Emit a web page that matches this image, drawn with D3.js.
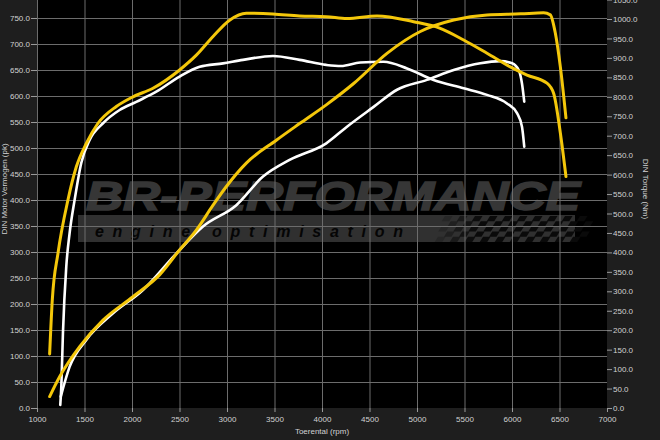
<!DOCTYPE html>
<html>
<head>
<meta charset="utf-8">
<script src="https://cdn.jsdelivr.net/npm/d3@7"></script>
<style>
  body { margin: 0; background: #1e1e1e; }
  text { font-family: "Liberation Sans", Arial, sans-serif; }
</style>
</head>
<body>
<div id="chart"></div>
<script>
// tick values
var rpmTicks = d3.range(1000, 7001, 500);
var pkTicks = d3.range(0, 751, 50);
var nmTicks = d3.range(0, 1051, 50);

// tuned torque (Nm, right axis) - yellow
var tunedTorqueRpm = [1133, 1161, 1221, 1326, 1414, 1519, 1642, 1835, 2010, 2221, 2501, 2677, 2853, 3027, 3203, 3484, 3764, 4045, 4263, 4579, 4964, 5245, 5491, 5737, 5982, 6158, 6368, 6438, 6509, 6568];
var tunedTorque    = [139, 278, 398, 535, 620, 680, 732, 775, 800, 822, 869, 907, 955, 997, 1015, 1013, 1008, 1006, 1001, 1008, 993, 976, 946, 912, 877, 856, 835, 809, 707, 595];

// stock torque (Nm, right axis) - white
var stockTorqueRpm = [1245, 1256, 1273, 1308, 1343, 1396, 1466, 1554, 1695, 1870, 2045, 2256, 2501, 2712, 2958, 3168, 3484, 3764, 4045, 4200, 4403, 4648, 4895, 5175, 5491, 5737, 5947, 6053, 6105, 6129];
var stockTorque    = [8, 55, 192, 363, 449, 535, 630, 689, 732, 766, 787, 813, 852, 877, 886, 895, 905, 895, 882, 879, 888, 890, 873, 843, 822, 805, 783, 758, 723, 672];

// tuned power (pk, left axis) - yellow
var tunedPowerRpm = [1133, 1238, 1449, 1695, 2010, 2290, 2501, 2677, 2853, 2993, 3203, 3519, 3764, 4045, 4333, 4684, 5035, 5386, 5737, 6091, 6333, 6403, 6456, 6509, 6568];
var tunedPower    = [22, 60, 118, 169, 214, 256, 304, 342, 390, 426, 471, 515, 547, 583, 624, 682, 724, 746, 756, 758, 760, 756, 721, 656, 558];

// stock power (pk, left axis) - white
var stockPowerRpm = [1250, 1343, 1519, 1800, 2116, 2466, 2747, 3098, 3379, 3659, 4045, 4263, 4543, 4790, 5105, 5386, 5667, 5877, 6000, 6070, 6105, 6129];
var stockPower    = [22, 79, 131, 182, 227, 297, 349, 390, 445, 477, 509, 541, 579, 612, 631, 650, 663, 667, 663, 650, 624, 589];

var svgWidth = 660;
var svgHeight = 440;
var plot = { left: 37, right: 607, top: 0, bottom: 408 };

var svg = d3.select("#chart")
  .append("svg")
  .attr("width", svgWidth)
  .attr("height", svgHeight);

svg.append("rect")
  .attr("width", svgWidth).attr("height", svgHeight)
  .attr("fill", "#1e1e1e");

var x = d3.scaleLinear().domain([1000, 7000]).range([plot.left, plot.right]);
var yPk = d3.scaleLinear().domain([0, 750]).range([plot.bottom, 18]);
var yNm = d3.scaleLinear().domain([0, 1000]).range([plot.bottom, 19]);

svg.append("defs").append("clipPath").attr("id", "plotClip")
  .append("rect")
  .attr("x", plot.left).attr("y", plot.top)
  .attr("width", plot.right - plot.left).attr("height", plot.bottom - plot.top);

var chart = svg.append("g").attr("clip-path", "url(#plotClip)");

chart.append("rect")
  .attr("x", plot.left).attr("y", plot.top)
  .attr("width", plot.right - plot.left).attr("height", plot.bottom - plot.top)
  .attr("fill", "#000");

// watermark
var wm = chart.append("g");
wm.append("text")
  .attr("x", 86).attr("y", 210)
  .attr("textLength", 494).attr("lengthAdjust", "spacingAndGlyphs")
  .attr("font-size", 40).attr("font-weight", "bold").attr("font-style", "italic")
  .attr("font-family", "DejaVu Sans")
  .attr("fill", "#363636")
  .attr("stroke", "#363636").attr("stroke-width", 1.6)
  .text("BR-PERFORMANCE");
wm.append("rect")
  .attr("x", 78).attr("y", 215).attr("width", 497).attr("height", 27)
  .attr("fill", "#303030");
wm.append("text")
  .attr("x", 95).attr("y", 237)
  .attr("textLength", 308).attr("lengthAdjust", "spacing")
  .attr("font-size", 16).attr("font-weight", "bold").attr("font-style", "italic")
  .attr("font-family", "DejaVu Sans")
  .attr("fill", "#050505")
  .text("engine optimisation");

// checkered flag
var flag = wm.append("g").attr("transform", "translate(445,216) skewX(-32)");
for (var i = 0; i < 20; i++) {
  for (var j = 0; j < 5; j++) {
    if ((i + j) % 2 === 0) {
      flag.append("rect")
        .attr("x", i * 7.5 + j * 1.5).attr("y", j * 5.2)
        .attr("width", 7.5).attr("height", 5.2)
        .attr("fill", "#0a0a0a")
        .attr("opacity", Math.min(1, 0.25 + i / 6));
    }
  }
}

// gridlines
chart.append("g")
  .attr("transform", `translate(${plot.left},0)`)
  .call(d3.axisLeft(yPk).tickValues(pkTicks).tickSize(-(plot.right - plot.left)).tickFormat(""))
  .call(g => g.select(".domain").remove())
  .selectAll("line").attr("stroke", "#6c6c6c");

chart.append("g")
  .attr("transform", `translate(0,${plot.bottom})`)
  .call(d3.axisBottom(x).tickValues(rpmTicks).tickSize(-(plot.bottom - plot.top)).tickFormat(""))
  .call(g => g.select(".domain").remove())
  .selectAll("line").attr("stroke", "#6c6c6c");

// curves
function drawCurve(rpms, vals, yScale, color, width) {
  var pts = rpms.map((r, k) => [r, vals[k]]);
  var line = d3.line()
    .x(d => x(d[0]))
    .y(d => yScale(d[1]))
    .curve(d3.curveMonotoneX);
  chart.append("path")
    .datum(pts)
    .attr("d", line)
    .attr("fill", "none")
    .attr("stroke", color)
    .attr("stroke-width", width)
    .attr("stroke-linecap", "round")
    .attr("stroke-linejoin", "round");
}

var yellow = "#f4c70a";
drawCurve(stockPowerRpm, stockPower, yPk, "#ffffff", 2.6);
drawCurve(stockTorqueRpm, stockTorque, yNm, "#ffffff", 2.6);
drawCurve(tunedPowerRpm, tunedPower, yPk, yellow, 3);
drawCurve(tunedTorqueRpm, tunedTorque, yNm, yellow, 3);

// axes
function styleAxis(g) {
  g.select(".domain").remove();
  g.selectAll("line").attr("stroke", "#9a9a9a");
  g.selectAll("text").attr("fill", "#d2d2d2").attr("font-size", 8)
    .attr("font-family", "Liberation Sans, Arial, sans-serif");
}

svg.append("g")
  .attr("transform", `translate(${plot.left},0)`)
  .call(d3.axisLeft(yPk).tickValues(pkTicks).tickFormat(d3.format(".1f")).tickSize(6).tickPadding(1))
  .call(styleAxis);

svg.append("g")
  .attr("transform", `translate(${plot.right},0)`)
  .call(d3.axisRight(yNm).tickValues(nmTicks).tickFormat(d3.format(".1f")).tickSize(5).tickPadding(1))
  .call(styleAxis);

svg.append("g")
  .attr("transform", `translate(0,${plot.bottom})`)
  .call(d3.axisBottom(x).tickValues(rpmTicks).tickFormat(d3.format("d")).tickSize(4).tickPadding(4))
  .call(styleAxis);

// axis titles
svg.append("text")
  .attr("x", (plot.left + plot.right) / 2).attr("y", 434)
  .attr("text-anchor", "middle")
  .attr("font-size", 8).attr("fill", "#d2d2d2")
  .text("Toerental (rpm)");

svg.append("text")
  .attr("transform", "translate(7,189) rotate(-90)")
  .attr("text-anchor", "middle")
  .attr("font-size", 8).attr("fill", "#d2d2d2")
  .text("DIN Motor Vermogen (pk)");

svg.append("text")
  .attr("transform", "translate(643,189) rotate(90)")
  .attr("text-anchor", "middle")
  .attr("font-size", 8).attr("fill", "#d2d2d2")
  .text("DIN Torque (Nm)");
</script>
</body>
</html>
